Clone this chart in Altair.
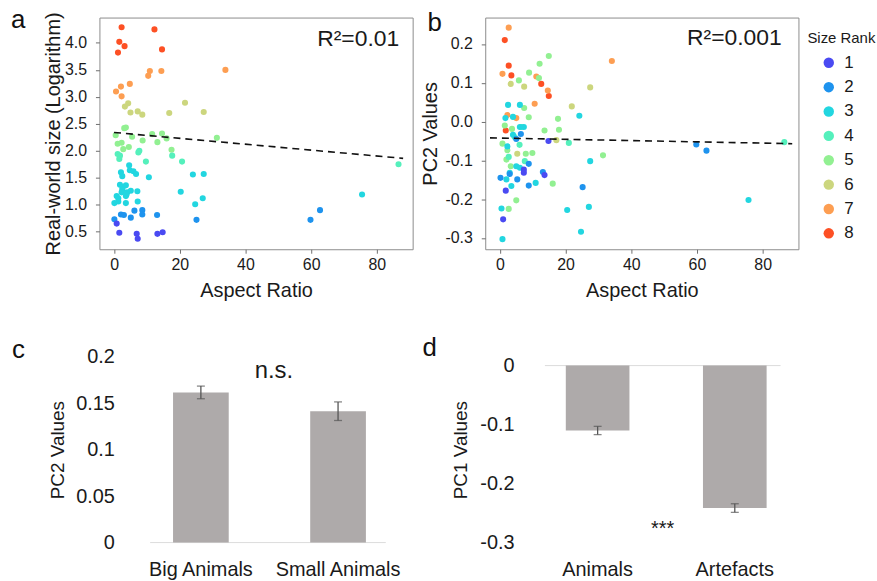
import altair as alt
import pandas as pd

FONT = "Liberation Sans"
TXT = "#1a1a1a"

rank_levels = [1, 2, 3, 4, 5, 6, 7, 8]
rank_colors = ["#4a4af2", "#1e93ee", "#22d6e0", "#55f0bc", "#92f092", "#ccd67e", "#fd9e52", "#fd5024"]

# ---------- panel a : aspect ratio vs real-world size (log) ----------
a_aspect = [2.3, 12.3, 1.6, 3.2, 1.2, 14.6,
            10.9, 10.4, 14.4, 33.9, 4.8, 0.6, 2.1, 2.3,
            4.3, 3.3, 5.0, 7.2, 8.6, 16.8, 21.6, 27.3,
            3.1, 3.6, 0.5, 11.6, 14.6, 5.5, 16.0, 8.7, 13.2, 31.3, 1.1, 2.3, 2.8, 4.5, 17.5,
            1.1, 1.8, 1.6, 7.4, 7.7, 9.7, 17.7, 20.7, 86.6,
            4.6, 4.8, 5.9, 6.7, 2.1, 2.5, 10.6, 24.0, 27.3, 1.8, 2.6, 3.6, 2.5, 2.3, 4.0, 5.1,
            7.1, 0.8, 1.3, 0.1, 1.3, 3.6, 3.8, 3.6, 7.2, 20.3, 75.5, 24.7, 27.0,
            2.1, 3.0, 0.1, 5.1, 6.2, 8.6, 8.6, 13.1, 25.1, 59.8, 62.7,
            0.8, 1.6, 6.9, 7.2, 13.2, 14.8]
a_logsize = [4.29, 4.25, 4.02, 3.94, 3.82, 3.88,
             3.48, 3.39, 3.48, 3.50, 3.24, 3.10, 3.19, 3.01,
             2.88, 2.82, 2.71, 2.73, 2.67, 2.70, 2.89, 2.72,
             2.42, 2.43, 2.29, 2.31, 2.32, 2.26, 2.23, 2.19, 2.16, 2.24, 2.13, 2.15, 2.03, 2.07, 2.02,
             1.94, 1.91, 1.85, 1.97, 2.00, 1.80, 1.91, 1.80, 1.75,
             1.73, 1.64, 1.62, 1.57, 1.60, 1.53, 1.51, 1.56, 1.57, 1.37, 1.32, 1.36, 1.28, 1.23, 1.23, 1.26,
             1.25, 1.16, 1.12, 1.03, 1.06, 1.16, 1.19, 1.03, 1.06, 1.24, 1.19, 1.01, 1.12,
             0.82, 0.81, 0.73, 0.76, 0.89, 0.90, 0.82, 0.81, 0.72, 0.72, 0.90,
             0.65, 0.48, 0.46, 0.37, 0.46, 0.49]
a_rank = [8] * 6 + [7] * 8 + [6] * 8 + [5] * 15 + [4] * 9 + [3] * 29 + [2] * 11 + [1] * 6

a_fit_x = [0.0, 88.0]
a_fit_y = [2.34, 1.86]
a_r2_text = ["R²=0.01"]
a_r2_x = [86.8]
a_r2_y = [4.08]
a_yticks = [0.5, 1.0, 1.5, 2.0, 2.5, 3.0, 3.5, 4.0]

# ---------- panel b : aspect ratio vs PC2 ----------
b_aspect = [1.5, 2.7, 3.5, 12.6, 14.9, 1.8,
            2.7, 0.8, 34.1, 11.1, 14.6, 10.6, 2.3, 5.0,
            3.3, 7.4, 27.5, 21.9, 17.2, 5.3,
            14.9, 12.1, 8.9, 5.8, 11.9, 7.4, 8.8, 17.7, 18.0, 13.6, 1.5, 3.7, 0.8, 2.3, 9.9, 7.9,
            31.4, 16.1, 5.0, 2.7, 2.0, 3.3,
            21.0, 86.6, 2.7, 7.6, 6.6, 4.5, 6.0,
            2.5, 6.1, 24.2, 1.7, 4.0, 6.1, 7.3, 4.0, 2.3, 27.5, 5.0, 6.1, 3.0, 2.0, 3.5, 10.9,
            0.5, 0.8, 20.5, 27.1, 24.7, 75.7,
            6.4, 5.0, 8.8, 0.2, 3.0, 5.3, 8.8, 13.1, 25.2, 59.8, 62.9,
            14.8, 7.3, 7.3, 13.6, 1.8, 1.0]
b_pc2 = [0.210, 0.144, 0.119, 0.097, 0.066, -0.023,
         0.242, 0.123, 0.156, 0.116, 0.080, 0.046, 0.017, 0.009,
         0.097, 0.090, 0.088, 0.039, -0.048, -0.083,
         0.169, 0.149, 0.126, 0.106, 0.112, 0.035, 0.011, 0.007, -0.021, -0.023, -0.010, -0.019,
         -0.057, -0.074, -0.081, -0.083, -0.087, -0.160, -0.203, -0.225, -0.098, -0.115,
         -0.055, -0.053, -0.091, -0.102, -0.014, -0.040, -0.060,
         0.043, 0.043, 0.015, 0.009, 0.012, -0.014, -0.014, -0.034, -0.064, -0.102, -0.115, -0.119,
         -0.132, -0.149, -0.166, -0.158, -0.224, -0.303, -0.228, -0.220, -0.284, -0.202,
         -0.032, -0.045, -0.109, -0.145, -0.135, -0.149, -0.165, -0.130, -0.169, -0.059, -0.075,
         -0.050, -0.124, -0.132, -0.138, -0.178, -0.252]
b_rank = [8] * 6 + [7] * 8 + [6] * 6 + [5] * 22 + [4] * 7 + [3] * 22 + [2] * 11 + [1] * 6

b_fit_x = [-3.0, 89.0]
b_fit_y = [-0.042, -0.057]
b_r2_text = ["R²=0.001"]
b_r2_x = [85.8]
b_r2_y = [0.2146]
b_yticks = [-0.3, -0.2, -0.1, 0.0, 0.1, 0.2]

x_ticks = [0, 20, 40, 60, 80]

# ---------- panel c ----------
c_groups = ["Big Animals", "Small Animals"]
c_values = [0.1615, 0.1413]
c_errors = [0.0068, 0.0100]
c_yticks = [0, 0.05, 0.1, 0.15, 0.2]

# ---------- panel d ----------
d_groups = ["Animals", "Artefacts"]
d_values = [-0.1100, -0.2415]
d_errors = [0.0070, 0.0073]
d_yticks = [0, -0.1, -0.2, -0.3]

# =====================================================================
color_scale = alt.Scale(domain=rank_levels, range=rank_colors)
frame = alt.ViewBackground(stroke="#8c8c8c", strokeWidth=1)
X_DOMAIN = [-4.45, 90.9]


def letter_mark(letter, px, py):
    # panel letter, placed relative to the panel's plot area
    return alt.Chart(pd.DataFrame({"t": [letter]})).mark_text(
        align="left", baseline="alphabetic", fontSize=26, font=FONT, color="#111111"
    ).encode(text="t:N", x=alt.value(px), y=alt.value(py))


def sc_axis(title, values, label_expr, label_pad, title_pad):
    return alt.Axis(title=title, values=values, grid=False, domain=False, tickSize=4,
                    tickColor="#6e6e6e", tickWidth=1, labelFontSize=16, titleFontSize=20,
                    labelColor=TXT, titleColor=TXT, titleFontWeight="normal",
                    labelFont=FONT, titleFont=FONT, labelExpr=label_expr,
                    labelOverlap=False, labelSeparation=0, labelPadding=label_pad,
                    titlePadding=title_pad)


def scatter_panel(df, fit, r2, ytitle, ydomain, yvalues, ylabel_expr, letter, lx, ly, legend,
                  ytitle_pad):
    xax = sc_axis("Aspect Ratio", x_ticks, "format(datum.value, 'd')", 3, 9)
    yax = sc_axis(ytitle, yvalues, ylabel_expr, 9, ytitle_pad)
    bx = alt.X("x:Q", scale=alt.Scale(domain=X_DOMAIN, nice=False, zero=False), axis=xax)
    by = alt.Y("y:Q", scale=alt.Scale(domain=ydomain, nice=False, zero=False), axis=yax)
    pts = alt.Chart(df).mark_circle(size=38, opacity=1).encode(
        x=bx, y=by,
        color=alt.Color("rank:O", scale=color_scale, legend=legend),
    )
    line = alt.Chart(fit).mark_line(color="#111111", strokeDash=[7, 5], strokeWidth=1.6).encode(
        x=bx, y=by)
    txt = alt.Chart(r2).mark_text(align="right", baseline="middle", fontSize=23, font=FONT,
                                  color=TXT).encode(x=bx, y=by, text="t:N")
    return alt.layer(pts, line, txt, letter_mark(letter, lx, ly)).properties(
        width=315, height=233, view=frame)


df_a = pd.DataFrame({"x": a_aspect, "y": a_logsize, "rank": a_rank})
df_af = pd.DataFrame({"x": a_fit_x, "y": a_fit_y})
df_ar = pd.DataFrame({"x": a_r2_x, "y": a_r2_y, "t": a_r2_text})
df_b = pd.DataFrame({"x": b_aspect, "y": b_pc2, "rank": b_rank})
df_bf = pd.DataFrame({"x": b_fit_x, "y": b_fit_y})
df_br = pd.DataFrame({"x": b_r2_x, "y": b_r2_y, "t": b_r2_text})

neg1 = "datum.value < 0 ? '-' + format(-datum.value, '.1f') : format(datum.value, '.1f')"

legend_b = alt.Legend(title="Size Rank", orient="none", legendX=324, legendY=14,
                      symbolType="circle", symbolSize=110, symbolStrokeWidth=0,
                      symbolOffset=13, labelFontSize=17, titleFontSize=15,
                      titleFontWeight="normal", labelFont=FONT, titleFont=FONT,
                      labelColor=TXT, titleColor=TXT, rowPadding=6.5, labelOffset=7,
                      titlePadding=8, padding=0)

panel_a = scatter_panel(df_a, df_af, df_ar, "Real-world size (Logarithm)", [0.175, 4.47],
                        a_yticks, neg1, "a", -89, 11, None, 1)
panel_b = scatter_panel(df_b, df_bf, df_br, "PC2 Values", [-0.329, 0.268],
                        b_yticks, neg1, "b", -58, 14, legend_b, 4)


def bar_panel(groups, values, errors, ytitle, ydomain, yvalues, letter, lx, ly,
              pad_inner, pad_outer, band_align, label_pad, title_pad,
              note, note_y, note_size, note_dx):
    df = pd.DataFrame({
        "g": groups, "v": values,
        "lo": [v - e for v, e in zip(values, errors)],
        "hi": [v + e for v, e in zip(values, errors)],
    })
    xs = alt.X("g:N", sort=groups,
               scale=alt.Scale(paddingInner=pad_inner, paddingOuter=pad_outer, align=band_align),
               axis=alt.Axis(title=None, labelAngle=0, ticks=False, tickSize=0, domain=False,
                             labelPadding=17, labelFontSize=20, labelColor=TXT, labelFont=FONT))
    ys = alt.Y("v:Q", scale=alt.Scale(domain=ydomain, nice=False, zero=False),
               axis=alt.Axis(title=ytitle, values=yvalues, grid=False, domain=False, ticks=False,
                             tickSize=0, labelPadding=label_pad, titlePadding=title_pad,
                             labelFontSize=20, titleFontSize=19, titleFontWeight="normal",
                             labelColor=TXT, titleColor=TXT, labelFont=FONT, titleFont=FONT,
                             labelOverlap=False,
                             labelExpr="datum.value < 0 ? '-' + format(-datum.value, '~g') : format(datum.value, '~g')"))
    base = alt.Chart(df)
    rule0 = alt.Chart(pd.DataFrame({"z": [0]})).mark_rule(color="#dcdcdc", strokeWidth=1).encode(
        y=alt.Y("z:Q"))
    bars = base.mark_bar(color="#aeaaaa").encode(x=xs, y=ys, y2=alt.datum(0))
    err = base.mark_rule(color="#555555", strokeWidth=1.3).encode(x="g:N", y="lo:Q", y2="hi:Q")
    cap_lo = base.mark_tick(color="#555555", thickness=1.3, size=8, orient="horizontal").encode(
        x="g:N", y="lo:Q")
    cap_hi = base.mark_tick(color="#555555", thickness=1.3, size=8, orient="horizontal").encode(
        x="g:N", y="hi:Q")
    note_df = pd.DataFrame({"t": [note], "y": [note_y]})
    ann = alt.Chart(note_df).mark_text(fontSize=note_size, font=FONT, color=TXT, dx=note_dx,
                                       baseline="middle").encode(y="y:Q", text="t:N")
    return alt.layer(rule0, bars, err, cap_lo, cap_hi, ann, letter_mark(letter, lx, ly)).properties(
        width=237, height=187)


panel_c = bar_panel(c_groups, c_values, c_errors, "PC2 Values", [0, 0.2],
                    c_yticks, "c", -139, 1, 0.594, 0.156, 0.535, 36, 8,
                    "n.s.", 0.185, 24, 6)
panel_d = bar_panel(d_groups, d_values, d_errors, "PC1 Values", [-0.3, 0.0152],
                    d_yticks, "d", -123, -1, 0.536, 0.127, 0.6, 31, 9,
                    "***", -0.277, 20, 0)


def spacer():
    return alt.Chart(pd.DataFrame({"z": [0]})).mark_point(size=1, opacity=0).properties(
        width=1, height=1)


top_pair = alt.hconcat(panel_a, panel_b, spacing=6).resolve_scale(color="independent")
bottom_pair = alt.hconcat(panel_c, panel_d, spacing=20)
row1 = alt.hconcat(spacer(), top_pair, spacing=0)
row2 = alt.hconcat(spacer(), bottom_pair, spacing=1)

chart = alt.vconcat(row1, row2, spacing=32).properties(
    padding={"left": 9, "top": 5, "right": 0, "bottom": 0}
).configure_view(stroke="transparent")

chart.save("out.html", embed_options={"renderer": "svg", "actions": False})
